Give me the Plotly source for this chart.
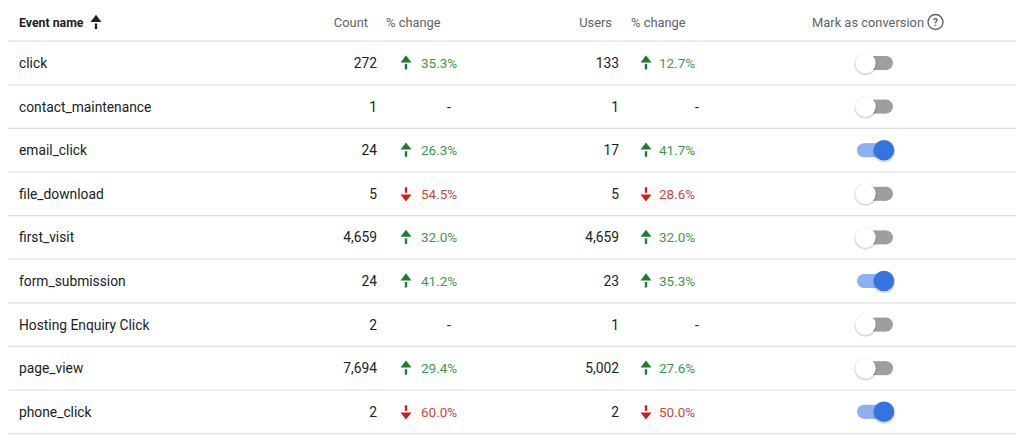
import plotly.graph_objects as go

# ---------------- data ----------------
events = ["click", "contact_maintenance", "email_click", "file_download", "first_visit",
          "form_submission", "Hosting Enquiry Click", "page_view", "phone_click"]
counts = [272, 1, 24, 5, 4659, 24, 2, 7694, 2]
count_change = [35.3, None, 26.3, -54.5, 32.0, 41.2, None, 29.4, -60.0]
users = [133, 1, 17, 5, 4659, 23, 1, 5002, 2]
users_change = [12.7, None, 41.7, -28.6, 32.0, 35.3, None, 27.6, -50.0]
conversion = [False, False, True, False, False, True, False, False, True]
headers = ["Event name", "Count", "% change", "Users", "% change", "Mark as conversion"]

# ---------------- layout constants ----------------
W, H = 1024, 436
OFF = 8  # page body margin; axis ranges shifted so data coords = page pixels
HEADER_Y = 22
ROW0 = 41.2
ROW_H = 43.6
TY = 1.5  # text baseline nudge
FONT = "Roboto"
TXT = "#202124"
GREY = "#5f6368"
GREEN_T = "#3d9a4b"
GREEN_A = "#1e7b34"
RED_T = "#d2463c"
RED_A = "#c5221f"

row_y = [ROW0 + ROW_H * (i + 0.5) for i in range(len(events))]

fig = go.Figure()


def text_trace(xs, ys, texts, pos, color, size=13.8, family=FONT):
    fig.add_trace(go.Scatter(x=xs, y=[y + TY for y in ys], text=texts, mode="text", textposition=pos,
                             textfont=dict(family=family, size=size, color=color),
                             hoverinfo="skip", showlegend=False, cliponaxis=False))


def arrow_trace(xs, ys, up, color):
    # stem
    sx, sy = [], []
    d = -1 if up else 1
    for x, y in zip(xs, ys):
        sx += [x, x, None]
        sy += [y - d * 1, y - d * 6.5, None]
    fig.add_trace(go.Scatter(x=sx, y=sy, mode="lines", line=dict(color=color, width=2.4),
                             hoverinfo="skip", showlegend=False))
    # head
    fig.add_trace(go.Scatter(x=xs, y=[y + d * 3 for y in ys], mode="markers",
                             marker=dict(symbol="triangle-up" if up else "triangle-down",
                                         size=9.5, color=color, line=dict(width=0)),
                             hoverinfo="skip", showlegend=False))


def fmt(v):
    return f"{v:,}"


# header
text_trace([19], [HEADER_Y], ["<b>" + headers[0] + "</b>"], "middle right", TXT, 12.3)
arrow_trace([96], [HEADER_Y + 0.5], True, TXT)
text_trace([368], [HEADER_Y], [headers[1]], "middle left", GREY, 12.9)
text_trace([612], [HEADER_Y], [headers[3]], "middle left", GREY, 12.9)
text_trace([386, 631], [HEADER_Y, HEADER_Y], [headers[2], headers[4]], "middle right", GREY, 12.9)
text_trace([812], [HEADER_Y], [headers[5]], "middle right", GREY, 12.9)
fig.add_trace(go.Scatter(x=[935.5], y=[HEADER_Y], mode="markers", 
                         marker=dict(symbol="circle-open", size=15, color=GREY,
                                     line=dict(color=GREY, width=1.4)),
                         hoverinfo="skip", showlegend=False))
text_trace([935.5], [HEADER_Y - 0.5], ["<b>?</b>"], "middle center", GREY, 10)

# body text
text_trace([19] * len(events), row_y, events, "middle right", TXT)
text_trace([377] * len(events), row_y, [fmt(c) for c in counts], "middle left", TXT)
text_trace([619] * len(events), row_y, [fmt(u) for u in users], "middle left", TXT)


def change_cols(changes, x_arrow, x_text, x_dash):
    ux, uy, dx, dy, gx, gy, gt, rx, ry, rt, nx, ny = [], [], [], [], [], [], [], [], [], [], [], []
    for y, v in zip(row_y, changes):
        if v is None:
            nx.append(x_dash); ny.append(y)
        elif v >= 0:
            ux.append(x_arrow); uy.append(y); gx.append(x_text); gy.append(y); gt.append(f"{v:.1f}%")
        else:
            dx.append(x_arrow); dy.append(y); rx.append(x_text); ry.append(y); rt.append(f"{-v:.1f}%")
    arrow_trace(ux, uy, True, GREEN_A)
    arrow_trace(dx, dy, False, RED_A)
    text_trace(gx, gy, gt, "middle right", GREEN_T, 13.5)
    text_trace(rx, ry, rt, "middle right", RED_T, 13.5)
    text_trace(nx, ny, ["-"] * len(nx), "middle center", TXT)


change_cols(count_change, 406, 421, 449)
change_cols(users_change, 646, 659, 697)

# toggles
TRACK_L, TRACK_R = 864, 886
KNOB_OFF, KNOB_ON = 865.5, 884
for state, col in [(False, "#9e9e9e"), (True, "#8cb0f0")]:
    xs, ys = [], []
    for y, c in zip(row_y, conversion):
        if c == state:
            xs += [TRACK_L, TRACK_R, None]
            ys += [y, y, None]
    fig.add_trace(go.Scatter(x=xs, y=ys, mode="lines+markers",
                             line=dict(color=col, width=14),
                             marker=dict(symbol="circle", size=14, color=col, line=dict(width=0)),
                             hoverinfo="skip", showlegend=False))

kx = [KNOB_ON if c else KNOB_OFF for c in conversion]
fig.add_trace(go.Scatter(x=kx, y=[y + 1 for y in row_y], mode="markers",
                         marker=dict(symbol="circle", size=22.5, color="rgba(0,0,0,0.13)", line=dict(width=0)),
                         hoverinfo="skip", showlegend=False))
fig.add_trace(go.Scatter(x=kx, y=row_y, mode="markers",
                         marker=dict(symbol="circle", size=20.5,
                                     color=["#3573e0" if c else "#ffffff" for c in conversion],
                                     line=dict(width=0)),
                         hoverinfo="skip", showlegend=False))

# grid lines / borders
shapes = []
LINE = "#e0e0e0"
BOTTOM = ROW0 + ROW_H * len(events)
for i in range(len(events) + 1):
    y = ROW0 + ROW_H * i
    shapes.append(dict(type="line", x0=2, x1=1017, y0=y, y1=y, line=dict(color=LINE, width=1.2)))
shapes.append(dict(type="line", x0=2, x1=1024, y0=4, y1=4, line=dict(color="#cfcfcf", width=1.6)))
shapes.append(dict(type="line", x0=2, x1=2, y0=4, y1=BOTTOM, line=dict(color=LINE, width=1.2)))
shapes.append(dict(type="line", x0=1017, x1=1017, y0=4, y1=BOTTOM, line=dict(color=LINE, width=1.2)))
for s in shapes:
    s["layer"] = "below"

fig.update_layout(
    width=W, height=H, margin=dict(l=0, r=0, t=0, b=0),
    paper_bgcolor="white", plot_bgcolor="white",
    xaxis=dict(range=[OFF, W + OFF], visible=False, fixedrange=True),
    yaxis=dict(range=[H + OFF, OFF], visible=False, fixedrange=True),
    shapes=shapes, showlegend=False,
)

fig.write_html("out.html")
